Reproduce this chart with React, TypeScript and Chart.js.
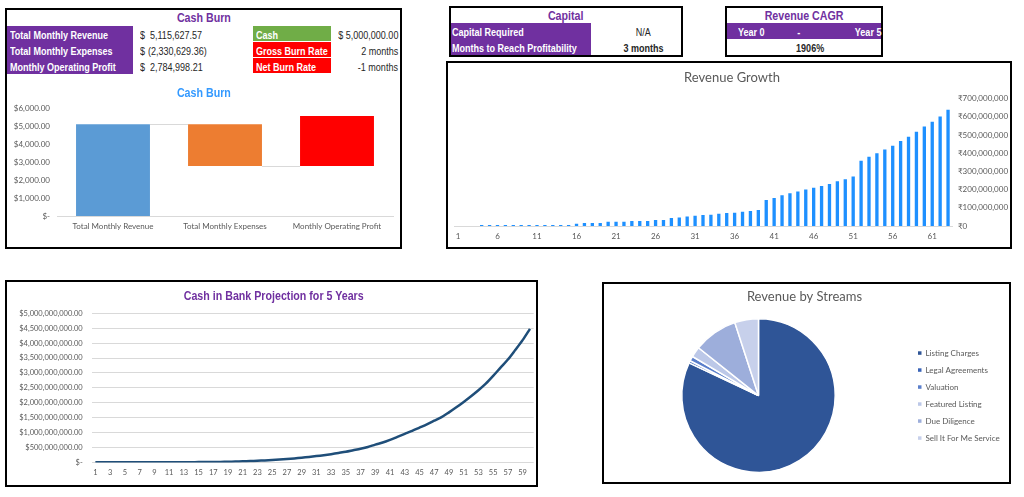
import React, { useEffect, useRef } from "react";
import { Chart, registerables } from "chart.js";
Chart.register(...registerables);

const FONT = "Lato, 'Noto Sans', sans-serif";
const NARROW = "'Liberation Sans', Arial, sans-serif";
const SQUEEZE = 0.82;
const PURPLE = "#7030A0";
const GRAY = "#595959";

// ---------- Cash Burn table ----------
const burnLabels = ["Total Monthly Revenue", "Total Monthly Expenses", "Monthly Operating Profit"];
const burnValues = ["5,115,627.57", "(2,330,629.36)", "2,784,998.21"];
const rateLabels = ["Cash", "Gross Burn Rate", "Net Burn Rate"];
const rateColors = ["#70AD47", "#FF0000", "#FF0000"];
const rateValues = ["$ 5,000,000.00", "2 months", "-1 months"];

// ---------- Cash Burn waterfall (thousands of $) ----------
const waterfallBase = [0, 2785.0, 2785.0];
const waterfallTop = [5115.63, 5115.63, 5570.0];
const waterfallColors = ["#5B9BD5", "#ED7D31", "#FF0000"];
const connectorLevels = [5115.63, 2785.0];

// ---------- Capital / CAGR ----------
const capitalLabels = ["Capital Required", "Months to Reach Profitability"];
const capitalValues = ["N/A", "3 months"];
const cagrHeader = ["Year 0", "-", "Year 5"];
const cagrValue = "1906%";

// ---------- Revenue Growth (₹) ----------
const revenueMonths = Array.from({ length: 63 }, (_, i) => String(i + 1));
const revenueValues = [
  0, 0, 0, 5.5e6, 5.5e6, 5.5e6, 5.5e6, 5.5e6, 5.5e6, 5.5e6,
  5.5e6, 5.5e6, 5.5e6, 5.5e6, 5.5e6, 12e6, 17e6, 17e6, 17e6, 23e6,
  23e6, 23e6, 28e6, 28e6, 28e6, 33e6, 33e6, 44e6, 47e6, 52e6,
  57e6, 61e6, 62e6, 67e6, 72e6, 73e6, 78e6, 83e6, 88e6, 143e6,
  154e6, 169e6, 180e6, 190e6, 200e6, 210e6, 220e6, 231e6, 246e6, 257e6,
  272e6, 358e6, 380e6, 400e6, 420e6, 441e6, 467e6, 491e6, 518e6, 547e6,
  573e6, 602e6, 639e6,
];

// ---------- Cash in Bank ($) ----------
const cashMonths = Array.from({ length: 60 }, (_, i) => String(i + 1));
const cashValues = [
  5e6, 6e6, 6.5e6, 7e6, 7.5e6, 8e6, 8.5e6, 9e6, 9.5e6, 10e6,
  10.5e6, 11e6, 11.5e6, 12e6, 13e6, 14e6, 16e6, 19e6, 24e6, 30e6,
  38e6, 47e6, 58e6, 70e6, 84e6, 100e6, 117e6, 138e6, 160e6, 185e6,
  215e6, 245e6, 280e6, 320e6, 360e6, 410e6, 460e6, 520e6, 600e6, 670e6,
  760e6, 860e6, 960e6, 1060e6, 1170e6, 1280e6, 1400e6, 1520e6, 1680e6, 1850e6,
  2030e6, 2220e6, 2420e6, 2640e6, 2900e6, 3180e6, 3450e6, 3770e6, 4100e6, 4480e6,
];

// ---------- Revenue by Streams ----------
const streamLabels = ["Listing Charges", "Legal Agreements", "Valuation", "Featured Listing", "Due Diligence", "Sell It For Me Service"];
const streamValues = [82.0, 0.5, 1.0, 2.2, 9.3, 5.0];
const streamColors = ["#2F5597", "#3A64B8", "#5B7FCB", "#BCC8E8", "#9DAEDB", "#C7D0EB"];

const money2 = (v: number) =>
  v === 0 ? "$-" : "$" + v.toLocaleString("en-US", { minimumFractionDigits: 2, maximumFractionDigits: 2 });

function ChartCanvas({ left, top, width, height, make }: any) {
  const ref = useRef<HTMLCanvasElement>(null);
  useEffect(() => {
    const chart = new Chart(ref.current as HTMLCanvasElement, make());
    return () => chart.destroy();
  }, []);
  return (
    <canvas
      ref={ref}
      width={width}
      height={height}
      style={{ position: "absolute", left, top, width, height }}
    />
  );
}

const Box = ({ left, top, width, height }: any) => (
  <div
    style={{
      position: "absolute", left, top, width, height, boxSizing: "border-box",
      border: "2px solid #000",
    }}
  />
);

const Txt = ({ left, top, width, height, children, align = "left", color = "#262626", bold = false, bg, size = 11, pad = 0 }: any) => {
  const origin = align === "left" ? "left center" : align === "right" ? "right center" : "center center";
  return (
    <div
      style={{
        position: "absolute", left, top, width, height, lineHeight: height + "px",
        textAlign: align, background: bg, whiteSpace: "nowrap", boxSizing: "border-box",
        paddingLeft: align === "left" ? pad : 0, paddingRight: align === "right" ? pad : 0,
        overflow: "visible",
      }}
    >
      <span
        style={{
          display: "inline-block", transform: `scaleX(${SQUEEZE})`, transformOrigin: origin,
          color, fontWeight: bold ? 700 : 400, fontFamily: NARROW, fontSize: size,
        }}
      >
        {children}
      </span>
    </div>
  );
};

const connectorPlugin = {
  id: "connectors",
  afterDatasetsDraw(chart: any) {
    const meta = chart.getDatasetMeta(0);
    const y = chart.scales.y;
    const ctx = chart.ctx;
    ctx.save();
    ctx.strokeStyle = "#D9D9D9";
    ctx.lineWidth = 1;
    connectorLevels.forEach((lvl, i) => {
      const a = meta.data[i];
      const b = meta.data[i + 1];
      const py = Math.round(y.getPixelForValue(lvl)) + 0.5;
      ctx.beginPath();
      ctx.moveTo(a.x + a.width / 2, py);
      ctx.lineTo(b.x - b.width / 2, py);
      ctx.stroke();
    });
    ctx.restore();
  },
};

const makeBurn = () => ({
  type: "bar",
  data: {
    labels: burnLabels,
    datasets: [
      {
        data: burnLabels.map((_, i) => [waterfallBase[i], waterfallTop[i]]),
        backgroundColor: waterfallColors,
        barPercentage: 0.66,
        categoryPercentage: 1,
        borderSkipped: false,
      },
    ],
  },
  plugins: [connectorPlugin],
  options: {
    responsive: false,
    animation: false,
    layout: { padding: { left: 0, right: 6, top: 28.4, bottom: 0 } },
    plugins: {
      legend: { display: false },
      tooltip: { enabled: false },
      title: { display: false },
    },
    scales: {
      x: {
        grid: { display: false, drawTicks: false },
        border: { color: "#D9D9D9" },
        ticks: { color: GRAY, font: { family: FONT, size: 8 }, padding: 6, maxRotation: 0, autoSkip: false },
        afterFit: (s: any) => { s.height = 30; },
      },
      y: {
        min: 0, max: 6000,
        ticks: { stepSize: 1000, color: GRAY, font: { family: FONT, size: 8 }, padding: 7, callback: (v: any) => money2(Number(v)) },
        grid: { display: false, drawTicks: false },
        border: { display: false },
        afterFit: (s: any) => { s.width = 49; },
      },
    },
  },
});

const makeRevenue = () => ({
  type: "bar",
  data: {
    labels: revenueMonths,
    datasets: [
      { data: revenueValues, backgroundColor: "#1E90FF", barPercentage: 0.42, categoryPercentage: 1 },
    ],
  },
  options: {
    responsive: false,
    animation: false,
    layout: { padding: { left: 6, right: 0, top: 0, bottom: 0 } },
    plugins: {
      legend: { display: false },
      tooltip: { enabled: false },
      title: {
        display: true, text: "Revenue Growth", color: GRAY,
        font: { family: FONT, size: 13, weight: "normal" },
        padding: { top: 7, bottom: 13 },
      },
    },
    scales: {
      x: {
        grid: { display: false, drawTicks: false },
        border: { color: "#D9D9D9" },
        ticks: {
          color: GRAY, font: { family: FONT, size: 8 }, padding: 6, maxRotation: 0, autoSkip: false,
          callback: (_: any, i: number) => (i % 5 === 0 ? revenueMonths[i] : ""),
        },
        afterFit: (s: any) => { s.height = 21; },
      },
      y: {
        position: "right",
        min: 0, max: 700000000,
        ticks: {
          stepSize: 100000000, color: GRAY, font: { family: FONT, size: 8 }, padding: 6,
          callback: (v: any) => "₹" + Number(v).toLocaleString("en-US"),
        },
        grid: { display: false, drawTicks: false },
        border: { display: false },
        afterFit: (s: any) => { s.width = 58; },
      },
    },
  },
});

const makeCash = () => ({
  type: "line",
  data: {
    labels: cashMonths,
    datasets: [
      {
        data: cashValues, borderColor: "#1F4E79", borderWidth: 2.5, pointRadius: 0,
        tension: 0.3, fill: false,
      },
    ],
  },
  options: {
    responsive: false,
    animation: false,
    layout: { padding: { left: 7, right: 2, top: 31.3, bottom: 0 } },
    plugins: {
      legend: { display: false },
      tooltip: { enabled: false },
      title: { display: false },
    },
    scales: {
      x: {
        offset: true,
        grid: { display: false, drawTicks: false },
        border: { display: false },
        ticks: {
          color: GRAY, font: { family: FONT, size: 7.5 }, padding: 6, maxRotation: 0, autoSkip: false,
          callback: (_: any, i: number) => (i % 2 === 0 ? cashMonths[i] : ""),
        },
        afterFit: (s: any) => { s.height = 22.5; },
      },
      y: {
        min: 0, max: 5000000000,
        ticks: { stepSize: 500000000, color: GRAY, font: { family: FONT, size: 7.5 }, padding: 9, callback: (v: any) => money2(Number(v)) },
        grid: { color: "#D9D9D9", drawTicks: false },
        border: { display: false },
        afterFit: (s: any) => { s.width = 77.7; },
      },
    },
  },
});

const makePie = () => ({
  type: "pie",
  data: {
    labels: streamLabels,
    datasets: [
      { data: streamValues, backgroundColor: streamColors, borderColor: "#FFFFFF", borderWidth: 1.5 },
    ],
  },
  options: {
    responsive: false,
    animation: false,
    layout: { padding: { left: 4, right: 0, top: 0, bottom: 9 } },
    plugins: {
      tooltip: { enabled: false },
      title: {
        display: true, text: "Revenue by Streams", color: GRAY,
        font: { family: FONT, size: 13, weight: "normal" },
        padding: { top: 5.5, bottom: 13 },
      },
      legend: {
        position: "right",
        fullSize: false,
        maxWidth: 92,
        labels: {
          boxWidth: 3.5, boxHeight: 3.5, padding: 9, color: GRAY,
          font: { family: FONT, size: 8 },
          generateLabels: (chart: any) =>
            (Chart as any).overrides.pie.plugins.legend.labels
              .generateLabels(chart)
              .map((l: any) => ({ ...l, strokeStyle: l.fillStyle, lineWidth: 0 })),
        },
      },
    },
  },
});

export default function App() {
  const rowTops = [26, 42, 58];
  return (
    <div style={{ position: "absolute", left: 0, top: 0, width: 1024, height: 497, background: "#fff", overflow: "hidden" }}>
      {/* Cash Burn panel */}
      <Box left={5} top={8} width={397} height={241} />
      <Txt left={7} top={9} width={393} height={16} align="center" color={PURPLE} bold size={13}>Cash Burn</Txt>
      {burnLabels.map((l, i) => (
        <Txt key={l} left={7} top={rowTops[i]} width={126} height={16} bg={PURPLE} color="#fff" bold pad={3}>{l}</Txt>
      ))}
      {burnValues.map((v, i) => (
        <React.Fragment key={v}>
          <Txt left={140} top={rowTops[i]} width={10} height={16}>$</Txt>
          <Txt left={v.startsWith("(") ? 147.5 : 150} top={rowTops[i]} width={90} height={16}>{v}</Txt>
        </React.Fragment>
      ))}
      {rateLabels.map((l, i) => (
        <Txt key={l} left={253} top={rowTops[i]} width={78} height={15} bg={rateColors[i]} color="#fff" bold pad={3}>{l}</Txt>
      ))}
      {rateValues.map((v, i) => (
        <Txt key={v} left={300} top={rowTops[i]} width={98} height={16} align="right">{v}</Txt>
      ))}
      <ChartCanvas left={8} top={80} width={391} height={166} make={makeBurn} />
      <Txt left={8} top={84} width={391} height={16} align="center" color="#3399FF" bold size={13}>Cash Burn</Txt>

      {/* Capital panel */}
      <Box left={449} top={6} width={234} height={51} />
      <Txt left={451} top={7} width={230} height={16} align="center" color={PURPLE} bold size={13}>Capital</Txt>
      {capitalLabels.map((l, i) => (
        <Txt key={l} left={451} top={23 + i * 16} width={140} height={16} bg={PURPLE} color="#fff" bold pad={1}>{l}</Txt>
      ))}
      {capitalValues.map((v, i) => (
        <Txt key={v} left={593} top={23 + i * 16} width={100} height={16} align="center" bold={i === 1}>{v}</Txt>
      ))}

      {/* Revenue CAGR panel */}
      <Box left={725} top={6} width={158} height={51} />
      <Txt left={727} top={7} width={154} height={16} align="center" color={PURPLE} bold size={13}>Revenue CAGR</Txt>
      <div style={{ position: "absolute", left: 727, top: 23, width: 154, height: 16, background: PURPLE }} />
      <Txt left={738} top={23} width={40} height={16} color="#fff" bold>{cagrHeader[0]}</Txt>
      <Txt left={789} top={23} width={20} height={16} color="#fff" bold align="center">{cagrHeader[1]}</Txt>
      <Txt left={830} top={23} width={51} height={16} color="#fff" bold align="right">{cagrHeader[2]}</Txt>
      <Txt left={780} top={39} width={60} height={16} align="center" bold>{cagrValue}</Txt>

      {/* Revenue Growth panel */}
      <Box left={446} top={61} width={566} height={188} />
      <ChartCanvas left={448} top={63} width={562} height={184} make={makeRevenue} />

      {/* Cash in Bank panel */}
      <Box left={5} top={280} width={533} height={207} />
      <ChartCanvas left={7} top={282} width={529} height={203} make={makeCash} />
      <Txt left={14} top={287} width={520} height={16} align="center" color={PURPLE} bold size={13}>Cash in Bank Projection for 5 Years</Txt>

      {/* Revenue by Streams panel */}
      <Box left={602} top={282} width={409} height={202} />
      <ChartCanvas left={604} top={284} width={397} height={198} make={makePie} />
    </div>
  );
}
